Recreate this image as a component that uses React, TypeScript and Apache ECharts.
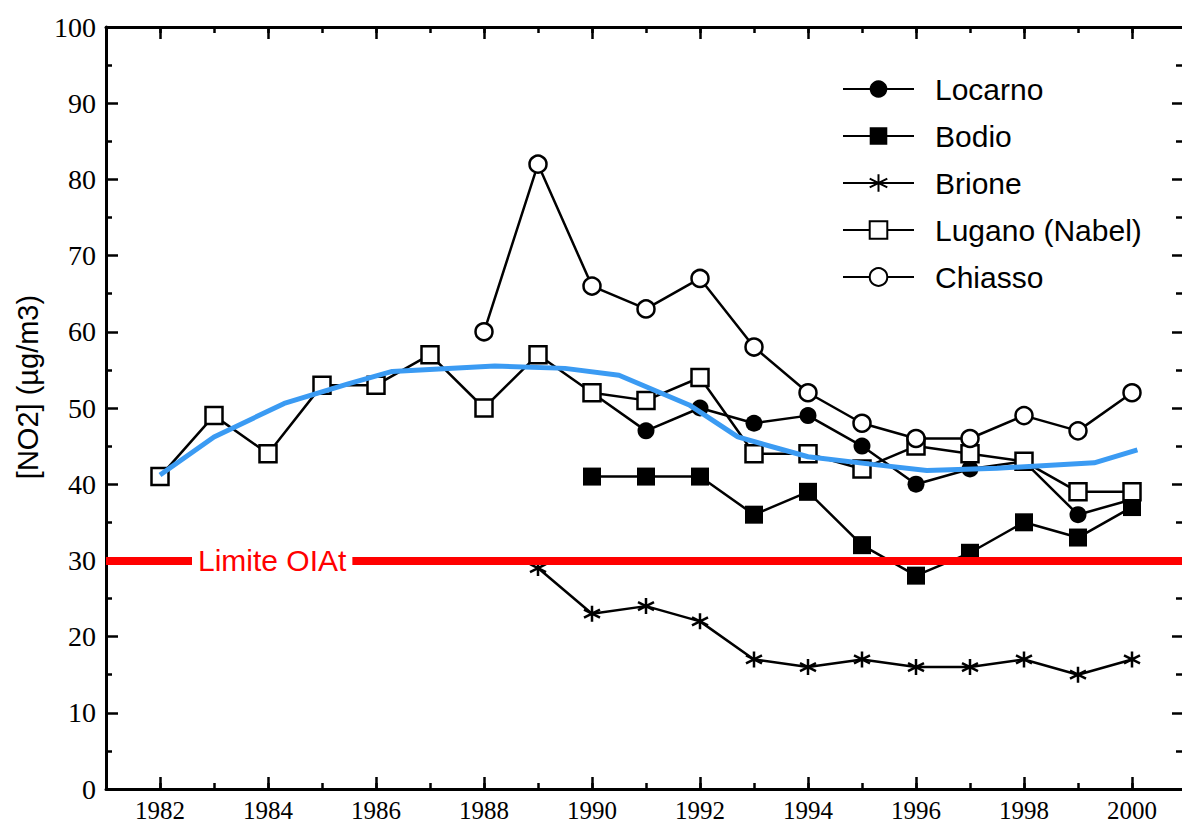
import React, { useEffect, useRef } from "react";
import * as echarts from "echarts";

// Annual mean NO2 concentrations (µg/m3) per station
const luganoYears = [1982, 1983, 1984, 1985, 1986, 1987, 1988, 1989, 1990, 1991, 1992, 1993, 1994, 1995, 1996, 1997, 1998, 1999, 2000];
const luganoValues = [41, 49, 44, 53, 53, 57, 50, 57, 52, 51, 54, 44, 44, 42, 45, 44, 43, 39, 39];

const chiassoYears = [1988, 1989, 1990, 1991, 1992, 1993, 1994, 1995, 1996, 1997, 1998, 1999, 2000];
const chiassoValues = [60, 82, 66, 63, 67, 58, 52, 48, 46, 46, 49, 47, 52];

const locarnoYears = [1990, 1991, 1992, 1993, 1994, 1995, 1996, 1997, 1998, 1999, 2000];
const locarnoValues = [52, 47, 50, 48, 49, 45, 40, 42, 43, 36, 38];

const bodioYears = [1990, 1991, 1992, 1993, 1994, 1995, 1996, 1997, 1998, 1999, 2000];
const bodioValues = [41, 41, 41, 36, 39, 32, 28, 31, 35, 33, 37];

const brioneYears = [1989, 1990, 1991, 1992, 1993, 1994, 1995, 1996, 1997, 1998, 1999, 2000];
const brioneValues = [29, 23, 24, 22, 17, 16, 17, 16, 16, 17, 15, 17];

// Overall trend curve
const trendYears = [1982.0, 1983.0, 1984.3, 1985.5, 1986.3, 1988.2, 1989.5, 1990.5, 1991.8, 1992.7, 1994.0, 1995.2, 1996.2, 1997.5, 1999.3, 2000.1];
const trendValues = [41.2, 46.2, 50.6, 53.2, 54.8, 55.5, 55.2, 54.3, 50.4, 46.2, 43.6, 42.6, 41.8, 42.1, 42.8, 44.5];

// OIAt annual limit value
const limitValue = 30;
const limitLabel = "Limite OIAt";

const evenYearTicks = [1982, 1984, 1986, 1988, 1990, 1992, 1994, 1996, 1998, 2000];

const pairs = (xs: number[], ys: number[]) => xs.map((x, i) => [x, ys[i]]);

const ASTERISK = "path://M10 0 L10 20 M1.34 5 L18.66 15 M1.34 15 L18.66 5";

// Horizontal scale: 54 px per year, frame runs 1981 → 2001, canvas extends past the cropped right edge
const PX_PER_YEAR = 54;

export default function App() {
  const ref = useRef<HTMLDivElement>(null);

  useEffect(() => {
    if (!ref.current) return;
    const chart = echarts.init(ref.current, null, { renderer: "svg" });

    const black = "#000";
    const serif = "'Liberation Serif', 'Times New Roman', serif";
    const sans = "'Liberation Sans', Arial, sans-serif";

    const baseX = {
      type: "value",
      min: 1981,
      max: 2002,
      splitLine: { show: false },
    };
    const tickStyle = { color: black, width: 2.5 };

    const baseLine = {
      type: "line",
      xAxisIndex: 0,
      yAxisIndex: 0,
      lineStyle: { color: black, width: 2.5 },
      z: 3,
    };

    chart.setOption({
      animation: false,
      backgroundColor: "#fff",
      grid: { left: 106, top: 27, width: PX_PER_YEAR * 21, height: 762, containLabel: false },
      xAxis: [
        {
          ...baseX,
          position: "bottom",
          interval: 1,
          axisLine: { show: true, lineStyle: { color: black, width: 3 } },
          axisTick: { show: true, inside: true, length: 6, lineStyle: tickStyle },
          axisLabel: {
            show: true,
            margin: 9,
            color: black,
            fontFamily: serif,
            fontSize: 25,
            formatter: (v: number) => (v % 2 === 0 && v <= 2000 ? String(v) : ""),
          },
        },
        {
          ...baseX,
          position: "bottom",
          axisLine: { show: false },
          axisTick: { show: true, inside: true, length: 12, customValues: evenYearTicks, lineStyle: tickStyle },
          axisLabel: { show: false },
        },
        {
          ...baseX,
          position: "top",
          interval: 1,
          axisLine: { show: true, lineStyle: { color: black, width: 3 } },
          axisTick: { show: true, inside: true, length: 6, lineStyle: tickStyle },
          axisLabel: { show: false },
        },
        {
          ...baseX,
          position: "top",
          axisLine: { show: false },
          axisTick: { show: true, inside: true, length: 12, customValues: evenYearTicks, lineStyle: tickStyle },
          axisLabel: { show: false },
        },
      ],
      yAxis: [
        {
          type: "value",
          position: "left",
          min: 0,
          max: 100,
          interval: 10,
          splitLine: { show: false },
          axisLine: { show: true, lineStyle: { color: black, width: 3 } },
          axisTick: { show: true, inside: true, length: 12, lineStyle: tickStyle },
          minorTick: { show: true, splitNumber: 2, length: 6, lineStyle: tickStyle },
          axisLabel: { show: true, margin: 10, color: black, fontFamily: serif, fontSize: 28 },
        },
        {
          // right frame ticks at year 2001
          type: "value",
          position: "right",
          offset: -PX_PER_YEAR,
          min: 0,
          max: 100,
          interval: 10,
          splitLine: { show: false },
          axisLine: { show: false },
          axisTick: { show: true, inside: true, length: 14, lineStyle: tickStyle },
          minorTick: { show: true, splitNumber: 2, length: 10, lineStyle: tickStyle },
          axisLabel: { show: false },
        },
      ],
      legend: {
        data: ["Locarno", "Bodio", "Brione", "Lugano (Nabel)", "Chiasso"],
        orient: "vertical",
        left: 837,
        top: 69,
        itemWidth: 71,
        itemHeight: 22,
        itemGap: 17,
        selectedMode: false,
        textStyle: { color: black, fontFamily: sans, fontSize: 30, padding: [0, 0, 0, 16] },
      },
      graphic: [
        {
          type: "text",
          x: 28,
          y: 387,
          rotation: Math.PI / 2,
          style: {
            text: "[NO2] (µg/m3)",
            font: `29px ${sans}`,
            fill: black,
            align: "center",
            verticalAlign: "middle",
            textAlign: "center",
            textVerticalAlign: "middle",
          },
        },
      ],
      series: [
        {
          name: "limit",
          type: "line",
          data: [],
          z: 1,
          markLine: {
            silent: true,
            symbol: "none",
            lineStyle: { color: "#ff0000", width: 8, type: "solid" },
            label: {
              show: true,
              position: "insideStart",
              distance: 86,
              formatter: limitLabel,
              color: "#ff0000",
              fontFamily: sans,
              fontSize: 30,
              backgroundColor: "#fff",
              padding: [2, 6],
            },
            data: [{ yAxis: limitValue }],
          },
        },
        {
          ...baseLine,
          name: "Locarno",
          data: pairs(locarnoYears, locarnoValues),
          symbol: "circle",
          symbolSize: 17,
          itemStyle: { color: black },
        },
        {
          ...baseLine,
          name: "Bodio",
          data: pairs(bodioYears, bodioValues),
          symbol: "rect",
          symbolSize: 18,
          itemStyle: { color: black },
        },
        {
          ...baseLine,
          name: "Brione",
          data: pairs(brioneYears, brioneValues),
          symbol: ASTERISK,
          symbolSize: 16,
          itemStyle: { color: black, borderColor: black, borderWidth: 2.5 },
        },
        {
          ...baseLine,
          name: "Lugano (Nabel)",
          data: pairs(luganoYears, luganoValues),
          symbol: "rect",
          symbolSize: 17,
          itemStyle: { color: "#fff", borderColor: black, borderWidth: 2.5 },
        },
        {
          ...baseLine,
          name: "Chiasso",
          data: pairs(chiassoYears, chiassoValues),
          symbol: "circle",
          symbolSize: 17,
          itemStyle: { color: "#fff", borderColor: black, borderWidth: 2.5 },
        },
        {
          name: "trend",
          type: "line",
          data: pairs(trendYears, trendValues),
          symbol: "none",
          lineStyle: { color: "#3b9bf3", width: 5 },
          z: 5,
        },
      ],
    });

    return () => chart.dispose();
  }, []);

  return (
    <div style={{ position: "absolute", left: 0, top: 0, width: 1182, height: 827, overflow: "hidden", background: "#fff" }}>
      <div ref={ref} style={{ width: 1260, height: 827 }} />
    </div>
  );
}
